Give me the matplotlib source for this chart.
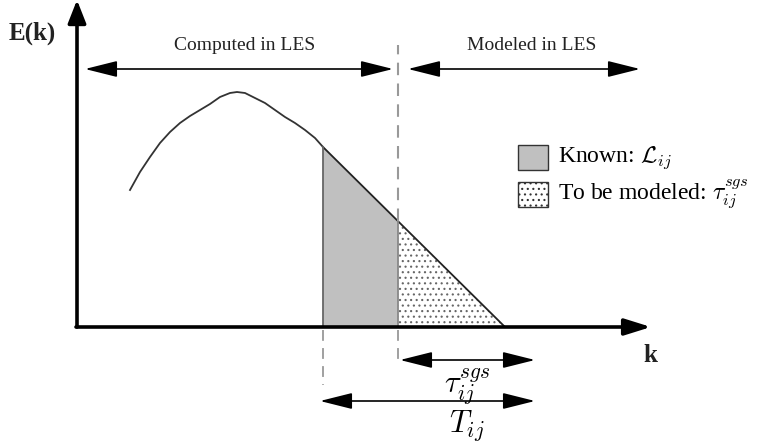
import matplotlib
matplotlib.use("Agg")
import matplotlib.pyplot as plt
from matplotlib.patches import Polygon, Rectangle

plt.rcParams['font.family'] = 'Liberation Serif'
plt.rcParams['mathtext.fontset'] = 'cm'
plt.rcParams['hatch.linewidth'] = 0.8

# diagram units: k to the right from the origin, E upwards (1 unit ~ 1 px)
curve_k = [53, 63, 73, 83, 93, 103, 113, 123, 133, 143, 153, 160,
           168, 178, 188, 198, 208, 218, 228, 238, 246]
curve_e = [137, 155, 170, 184, 195, 204, 211, 217, 223, 230, 234, 235,
           234, 229, 224, 217, 210, 204, 197, 189, 180]
k_test = 246      # test filter cutoff
k_grid = 321      # grid cutoff
k_end = 428       # where the inertial-range line meets the axis
e_test = 180

region_labels = ["Computed in LES", "Modeled in LES"]
region_k = [(8, 316), (331, 563)]
legend_labels = [r"Known: $\mathcal{L}_{ij}$", r"To be modeled: $\tau_{ij}^{sgs}$"]
span_labels = [r"$\tau_{ij}^{sgs}$", r"$T_{ij}$"]
span_k = [(323, 458), (243, 458)]
span_e = [-33, -74]

fig = plt.figure(figsize=(7.64, 4.43), dpi=100)
ax = fig.add_axes([0, 0, 1, 1])
ax.set_xlim(-77, 764 - 77)
ax.set_ylim(327 - 443, 327)
ax.axis('off')


def e_line(k):
    return e_test * (k_end - k) / (k_end - k_test)


e_grid = e_line(k_grid)

# axes with arrows
ax.annotate('', xy=(0, 327), xytext=(0, 0),
            arrowprops=dict(arrowstyle='-|>,head_length=1.4,head_width=0.55',
                            mutation_scale=10, lw=2.6, color='black',
                            shrinkA=0, shrinkB=0))
ax.annotate('', xy=(574, 0), xytext=(-1, 0),
            arrowprops=dict(arrowstyle='-|>,head_length=1.6,head_width=0.5',
                            mutation_scale=10, lw=2.6, color='black',
                            shrinkA=0, shrinkB=0))
ax.text(-45, 294, "E(k)", fontsize=18, fontweight='bold', ha='center', va='center',
        color='#222222')
ax.text(573, -28, "k", fontsize=18, fontweight='bold', ha='center', va='center',
        color='#222222')

# spectrum curve + linear tail
ax.plot(curve_k, curve_e, color='#333333', lw=1.3)
ax.plot([k_test, k_end], [e_test, 0], color='#222222', lw=1.3)

# shaded regions
ax.add_patch(Polygon([(k_test, 0), (k_test, e_test), (k_grid, e_grid), (k_grid, 0)],
                     closed=True, facecolor='#c0c0c0', edgecolor='none'))
ax.add_patch(Polygon([(k_grid, 0), (k_grid, e_grid), (k_end, 0)],
                     closed=True, facecolor='white', edgecolor='#666666',
                     hatch='...', lw=0))
ax.plot([k_test, k_test], [0, e_test], color='#666666', lw=1.3)
ax.plot([k_grid, k_grid], [0, e_grid], color='#888888', lw=1.3)

# dashed cutoff lines
ax.plot([k_grid, k_grid], [e_grid, 282], color='#999999', lw=1.5, dashes=(6, 4))
ax.plot([k_grid, k_grid], [-3, -38], color='#999999', lw=1.3, dashes=(6, 4))
ax.plot([k_test, k_test], [-3, -58], color='#999999', lw=1.3, dashes=(6, 4))

# region arrows
for label, (k0, k1) in zip(region_labels, region_k):
    ax.annotate('', xy=(k1, 258), xytext=(k0, 258),
                arrowprops=dict(arrowstyle='<|-|>,head_length=2.0,head_width=0.5',
                                mutation_scale=10, lw=1.2, color='black',
                                shrinkA=0, shrinkB=0))
ax.text(168, 282, region_labels[0], fontsize=14, ha='center', va='center', color='#222222')
ax.text(455, 282, region_labels[1], fontsize=14, ha='center', va='center', color='#222222')

# span arrows below the axis
for label, (k0, k1), e, dy in zip(span_labels, span_k, span_e, [-27, -25]):
    ax.annotate('', xy=(k1, e), xytext=(k0, e),
                arrowprops=dict(arrowstyle='<|-|>,head_length=2.0,head_width=0.5',
                                mutation_scale=10, lw=1.2, color='black',
                                shrinkA=0, shrinkB=0))
    ax.text(390, e + dy, label, fontsize=22, ha='center', va='center')

# legend boxes
ax.add_patch(Rectangle((441, 157), 30, 25, facecolor='#c0c0c0',
                       edgecolor='#333333', lw=1.0))
ax.add_patch(Rectangle((441, 120), 30, 25, facecolor='white',
                       edgecolor='#333333', hatch='...', lw=1.0))
ax.text(481, 169, legend_labels[0], fontsize=17, ha='left', va='center')
ax.text(481, 133, legend_labels[1], fontsize=17, ha='left', va='center')

fig.savefig("out.png", dpi=100)
